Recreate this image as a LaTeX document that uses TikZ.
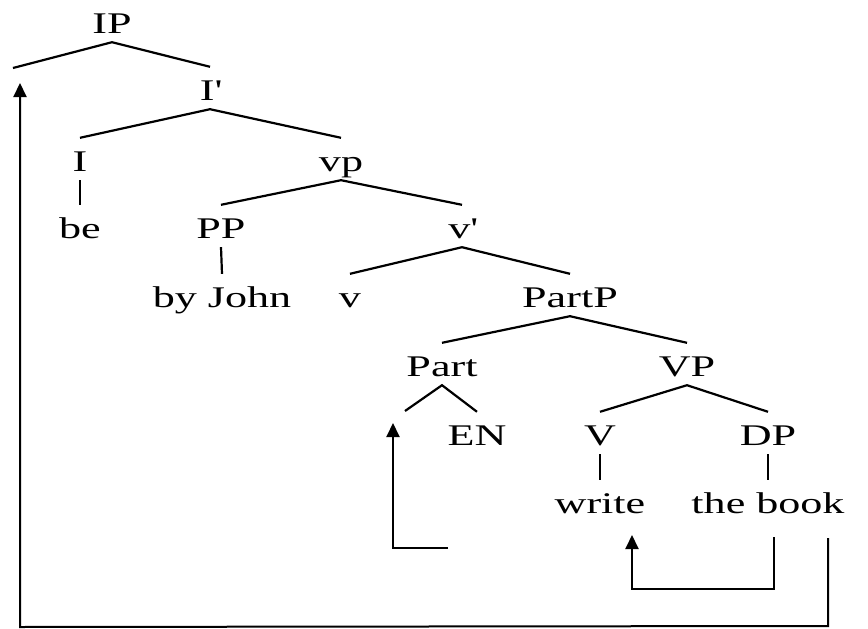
\documentclass[tikz,border=0pt]{standalone}
\usepackage{fontspec}
\setmainfont{Liberation Serif}[FakeStretch=1.47]
\usetikzlibrary{arrows.meta}
\begin{document}
\begin{tikzpicture}[x=1pt,y=-1pt,
  tn/.style={font=\fontsize{30}{34}\selectfont, inner sep=0pt, text height=33pt, text depth=9pt, anchor=base},
  br/.style={line width=2.2pt},
  mv/.style={line width=2pt},
  tip/.style={-{Triangle[length=14pt,width=13pt]}}]
\useasboundingbox (0,0) rectangle (868,629);
% nodes
\node[tn] (IP) at (112,33) {IP};
\node[tn] (Ib) at (210,100) {I\textquotesingle};
\node[tn] (I) at (80,171) {I};
\node[tn] (vp) at (341,171) {vp};
\node[tn] (be) at (80,238) {be};
\node[tn] (PP) at (221,238) {PP};
\node[tn] (vb) at (462,238) {v\textquotesingle};
\node[tn] (byJohn) at (222,307) {by John};
\node[tn] (v) at (350,307) {v};
\node[tn] (PartP) at (570,307) {PartP};
\node[tn] (Part) at (442,376) {Part};
\node[tn] (VP) at (687,376) {VP};
\node[tn] (EN) at (477,445) {EN};
\node[tn] (V) at (600,445) {V};
\node[tn] (DP) at (768,445) {DP};
\node[tn] (write) at (600,513) {write};
\node[tn] (book) at (768,513) {the book};
% empty positions
\coordinate (spec) at (13,68);
\coordinate (partl) at (405,411);
% tree branches
\draw[br] (spec) -- (IP.south) -- (Ib.north);
\draw[br] (I.north) -- (Ib.south) -- (vp.north);
\draw[br] (I.south) -- (be.north);
\draw[br] (PP.north) -- (vp.south) -- (vb.north);
\draw[br] (PP.south) -- (byJohn.north);
\draw[br] (v.north) -- (vb.south) -- (PartP.north);
\draw[br] (Part.north) -- (PartP.south) -- (VP.north);
\draw[br] (partl) -- (Part.south) -- (EN.north);
\draw[br] (V.north) -- (VP.south) -- (DP.north);
\draw[br] (V.south) -- (write.north);
\draw[br] (DP.south) -- (book.north);
% movement arrows
\coordinate (a1s) at (448,548);
\coordinate (a1c) at (393,548);
\coordinate (a1t) at (393,423);
\draw[mv,tip] (a1s) -- (a1c) -- (a1t);
\coordinate (a2s) at (774,537);
\coordinate (a2c) at (774,589);
\coordinate (a2d) at (632,589);
\coordinate (a2t) at (632,535);
\draw[mv,tip] (a2s) -- (a2c) -- (a2d) -- (a2t);
\coordinate (a3s) at (828,538);
\coordinate (a3c) at (828,626);
\coordinate (a3d) at (20,627);
\coordinate (a3t) at (20,83);
\draw[mv,tip] (a3s) -- (a3c) -- (a3d) -- (a3t);
\end{tikzpicture}
\end{document}
